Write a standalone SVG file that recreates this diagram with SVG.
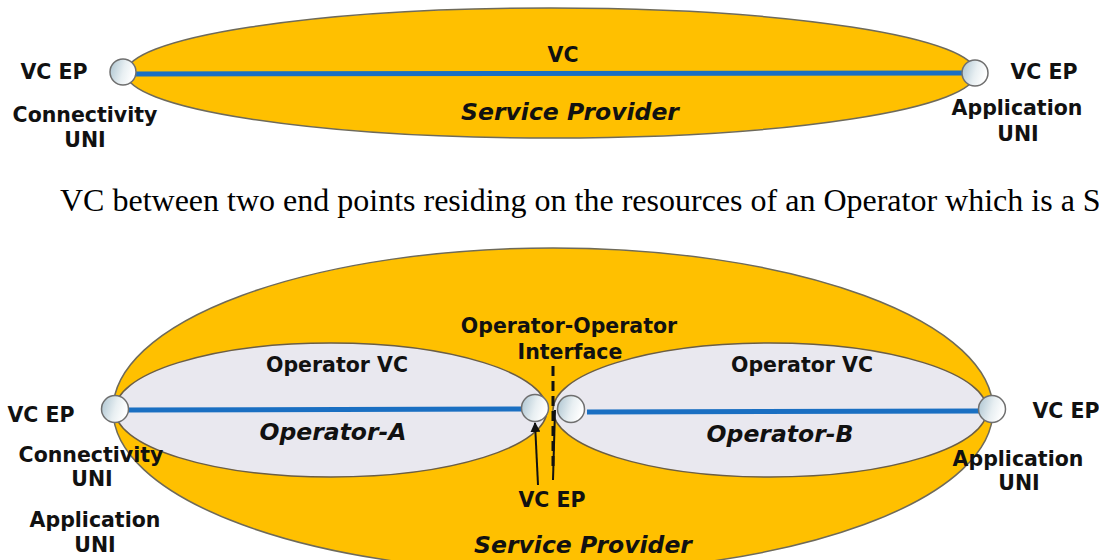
<svg xmlns="http://www.w3.org/2000/svg" width="1099" height="560" viewBox="0 0 1099 560">
<defs>
<linearGradient id="epg" x1="0" y1="0" x2="1" y2="0.3">
<stop offset="0" stop-color="#a9c2cf"/>
<stop offset="0.6" stop-color="#e8eff2"/>
<stop offset="1" stop-color="#ffffff"/>
</linearGradient>
<marker id="ah" viewBox="0 0 10 10" refX="9" refY="5" markerWidth="5" markerHeight="5" orient="auto">
<path d="M0,0 L10,5 L0,10 z" fill="#111"/>
</marker>
<style>
.sp{fill:#FFC000;stroke:#6e6a5a;stroke-width:1.5}
.op{fill:#E9E8EF;stroke:#6b5e45;stroke-width:1.5}
.ep{fill:url(#epg);stroke:#6f6f6f;stroke-width:1.5}
.vc{stroke:#1a6fc2;stroke-width:5;fill:none}
.lb{font-family:"DejaVu Sans",Verdana,sans-serif;font-weight:bold;font-size:20.5px;fill:#111;text-anchor:middle}
.it{font-family:"DejaVu Sans",Verdana,sans-serif;font-weight:bold;font-style:italic;font-size:23.5px;fill:#111;text-anchor:middle}
.cap{font-family:"Liberation Serif","Times New Roman",serif;font-size:32px;fill:#000}
.ln{stroke:#111;stroke-width:2;fill:none}
</style>
</defs>

<g id="top-sp">
<ellipse class="sp" cx="551" cy="73" rx="425" ry="65"/>
<text class="lb" x="563" y="62">VC</text>
<text class="it" x="570" y="120">Service Provider</text>
</g>
<g id="top-connectors">
<line class="vc" x1="136" y1="74" x2="963" y2="73"/>
</g>
<g id="top-ep-left">
<circle class="ep" cx="123" cy="72" r="13"/>
<text class="lb" x="54" y="79">VC EP</text>
<text class="lb" x="85" y="122">Connectivity</text>
<text class="lb" x="85" y="147">UNI</text>
</g>
<g id="top-ep-right">
<circle class="ep" cx="975" cy="73" r="13"/>
<text class="lb" x="1044" y="79">VC EP</text>
<text class="lb" x="1017" y="115">Application</text>
<text class="lb" x="1018" y="141">UNI</text>
</g>

<text class="cap" x="60" y="211">VC between two end points residing on the resources of an Operator which is a S</text>

<g id="bottom-sp">
<ellipse class="sp" cx="553" cy="410" rx="440" ry="162"/>
<text class="it" x="583" y="553">Service Provider</text>
</g>
<g id="operator-a">
<ellipse class="op" cx="331" cy="410" rx="216" ry="67"/>
<text class="lb" x="337" y="372">Operator VC</text>
<text class="it" x="333" y="440">Operator-A</text>
</g>
<g id="operator-b">
<ellipse class="op" cx="770" cy="410" rx="217" ry="67"/>
<text class="lb" x="802" y="372">Operator VC</text>
<text class="it" x="780" y="442">Operator-B</text>
</g>
<g id="bottom-connectors">
<line class="vc" x1="128" y1="410" x2="522" y2="409"/>
<line class="vc" x1="587" y1="412" x2="979" y2="411"/>
<line x1="553" y1="366" x2="553" y2="470" stroke="#111" stroke-width="3" stroke-dasharray="10,5"/>
<line class="ln" x1="538" y1="485" x2="535" y2="423" marker-end="url(#ah)"/>
<line class="ln" x1="553" y1="480" x2="555" y2="410"/>
</g>
<g id="ooi">
<text class="lb" x="569" y="333">Operator-Operator</text>
<text class="lb" x="570" y="359">Interface</text>
</g>
<g id="ep-mid-left">
<circle class="ep" cx="535" cy="408" r="13.5"/>
</g>
<g id="ep-mid-right">
<circle class="ep" cx="571" cy="409" r="13.5"/>
</g>
<g id="ep-mid-label">
<text class="lb" x="552" y="507">VC EP</text>
</g>
<g id="ep-bottom-left">
<circle class="ep" cx="115" cy="409" r="13.5"/>
<text class="lb" x="41" y="422">VC EP</text>
<text class="lb" x="91" y="462">Connectivity</text>
<text class="lb" x="92" y="486">UNI</text>
<text class="lb" x="95" y="527">Application</text>
<text class="lb" x="95" y="552">UNI</text>
</g>
<g id="ep-bottom-right">
<circle class="ep" cx="992" cy="409" r="13.5"/>
<text class="lb" x="1066" y="418">VC EP</text>
<text class="lb" x="1018" y="466">Application</text>
<text class="lb" x="1019" y="490">UNI</text>
</g>
</svg>
